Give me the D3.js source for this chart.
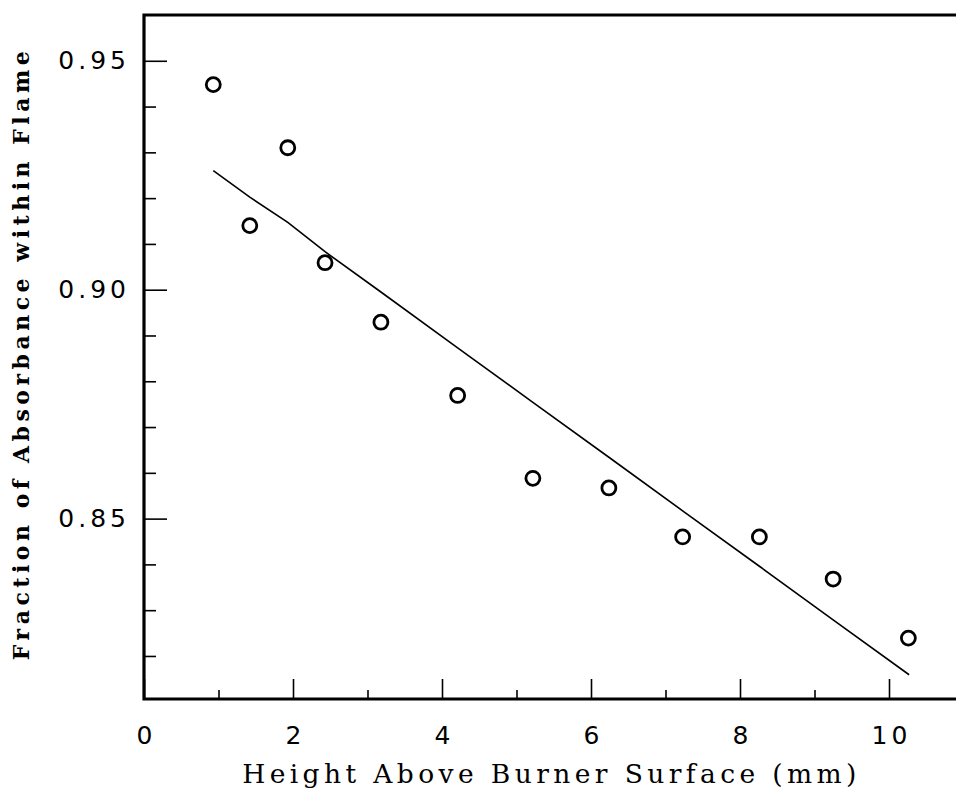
<!DOCTYPE html>
<html>
<head>
<meta charset="utf-8">
<script src="https://cdn.jsdelivr.net/npm/d3@7"></script>
<style>
  body { margin: 0; background: #fff; }
  svg { display: block; }
  .domain { display: none; }
</style>
</head>
<body>
<svg id="svg0" width="956" height="789"></svg>
<script>
// measured points (height in mm, fraction of absorbance)
var heights = [0.93, 1.42, 1.93, 2.43, 3.18, 4.21, 5.22, 6.24, 7.23, 8.26, 9.25, 10.26];
var fractions = [0.9448, 0.9140, 0.9310, 0.9059, 0.8929, 0.8769, 0.8588, 0.8567, 0.8460, 0.8460, 0.8368, 0.8239];
// fitted line
var fit_x = [0.93, 1.42, 1.93, 2.43, 3.18, 4.21, 5.22, 6.24, 7.23, 8.26, 9.25, 10.27];
var fit_y = [0.9260, 0.9202, 0.9147, 0.9083, 0.8995, 0.8873, 0.8754, 0.8634, 0.8517, 0.8396, 0.8279, 0.8159];
var x_major = [0, 2, 4, 6, 8, 10];
var x_minor = [1, 3, 5, 7, 9];
var y_major = [0.85, 0.90, 0.95];
var y_minor = [0.82, 0.83, 0.84, 0.86, 0.87, 0.88, 0.89, 0.91, 0.92, 0.93, 0.94];
var x_title = 'Height Above Burner Surface (mm)';
var y_title = 'Fraction of Absorbance within Flame';

var svg0 = d3.select('#svg0');
var plot_left = 144, plot_right = 963.5, plot_top = 15, plot_bottom = 699;

var x = d3.scaleLinear().domain([0, 11]).range([plot_left, plot_right]);
var y = d3.scaleLinear().domain([0.8106, 0.96]).range([plot_bottom, plot_top]);

function style_labels(g) {
	g.attr('font-family', 'DejaVu Sans, sans-serif').attr('font-size', 25);
	g.selectAll('.tick text').attr('letter-spacing', '4px');
	g.selectAll('.tick line').attr('stroke-width', 1.6);
}

// ticks point inwards
svg0.append('g').attr('transform', 'translate(0,' + plot_bottom + ')')
	.call(d3.axisBottom(x).tickValues(x_major).tickSizeInner(-20).tickSizeOuter(0).tickPadding(27).tickFormat(d3.format('d')))
	.call(style_labels)
	.call(g => g.selectAll('.tick text').attr('dx', '2px'));
svg0.append('g').attr('transform', 'translate(0,' + plot_bottom + ')')
	.call(d3.axisBottom(x).tickValues(x_minor).tickSizeInner(-9).tickSizeOuter(0).tickFormat(''))
	.call(style_labels);

svg0.append('g').attr('transform', 'translate(' + plot_left + ',0)')
	.call(d3.axisLeft(y).tickValues(y_major).tickSizeInner(-23).tickSizeOuter(0).tickPadding(14).tickFormat(d3.format('.2f')))
	.call(style_labels);
svg0.append('g').attr('transform', 'translate(' + plot_left + ',0)')
	.call(d3.axisLeft(y).tickValues(y_minor).tickSizeInner(-12).tickSizeOuter(0).tickFormat(''))
	.call(style_labels);

// frame: left, bottom, top (right side runs off the page)
svg0.append('path')
	.attr('d', 'M' + plot_right + ',' + plot_top + 'H' + plot_left + 'V' + plot_bottom + 'H' + plot_right)
	.attr('fill', 'none').attr('stroke', '#000').attr('stroke-width', 3.2);

var fit = d3.line().x((d, i) => x(fit_x[i])).y(d => y(d));
svg0.append('path').datum(fit_y).attr('d', fit)
	.attr('fill', 'none').attr('stroke', '#000').attr('stroke-width', 1.6);

svg0.selectAll('circle.pt').data(fractions).enter().append('circle').attr('class', 'pt')
	.attr('cx', (d, i) => x(heights[i])).attr('cy', d => y(d))
	.attr('r', 7).attr('fill', 'none').attr('stroke', '#000').attr('stroke-width', 2.8);

svg0.append('text').text(x_title)
	.attr('x', (237 + 862) / 2 + 2).attr('y', 783).attr('text-anchor', 'middle')
	.attr('font-family', 'DejaVu Serif, serif').attr('font-size', 26.5)
	.attr('letter-spacing', '4.4px');

svg0.append('text').text(y_title)
	.attr('transform', 'translate(29,' + (45 + 662) / 2 + ') rotate(-90)')
	.attr('text-anchor', 'middle')
	.attr('font-family', 'DejaVu Serif, serif').attr('font-size', 22).attr('font-weight', 'bold')
	.attr('letter-spacing', '4.5px');
</script>
</body>
</html>
